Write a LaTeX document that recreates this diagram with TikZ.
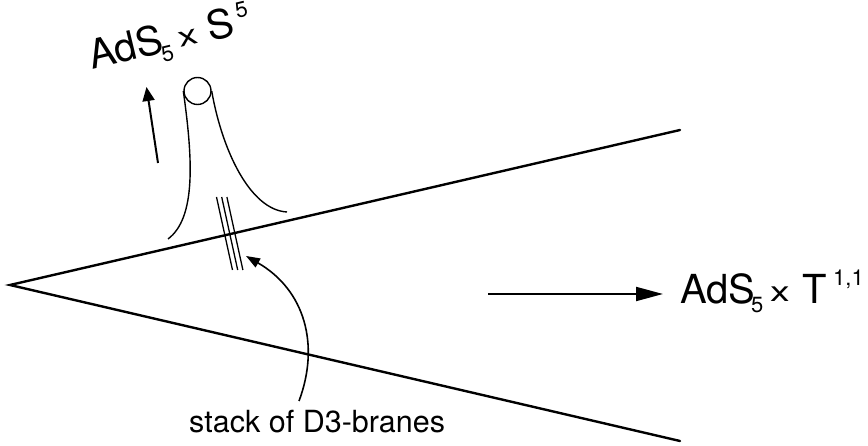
\documentclass[tikz,border=0pt]{standalone}
\usepackage{fontspec}
\setmainfont{TeX Gyre Heros}
\usetikzlibrary{arrows.meta}
\newcommand{\bigf}{\fontsize{40}{45}\selectfont}
\newcommand{\midf}{\fontsize{28}{32}\selectfont}
\newcommand{\smallf}{\fontsize{22}{26}\selectfont}
\newcommand{\timesx}{\scalebox{1.4}[1]{\midf x}}
\tikzset{
  cone/.style={line width=2.4pt, line cap=round},
  tube/.style={line width=1.4pt},
  brane/.style={line width=1.3pt},
  bigarrow/.style={line width=2pt, -{Triangle[length=27pt,width=14pt]}},
  uparrow/.style={line width=2pt, -{Triangle[length=14pt,width=12pt]}},
  curvearrow/.style={line width=1.6pt, -{Triangle[length=14pt,width=10pt]}},
  lbl/.style={inner sep=0pt, anchor=base west}
}
\begin{document}
\begin{tikzpicture}[x=1pt,y=-1pt]
\useasboundingbox (0,0) rectangle (868,446);
% cone
\coordinate (apex) at (10,285);
\coordinate (up) at (680,130);
\coordinate (lo) at (680,441);
\draw[cone] (up) -- (apex) -- (lo);
% throat
\node[circle, draw, line width=1.4pt, minimum size=27pt, inner sep=0pt] (ring) at (197.5,91) {};
\coordinate (tl) at (168,239);
\coordinate (tr) at (287,212);
\draw[tube] (ring.west) .. controls (193,160) and (196,218) .. (tl);
\draw[tube] (ring.east) .. controls (222,150) and (250,210) .. (tr);
% branes
\foreach \i in {0,1,2}{
  \coordinate (bt\i) at (216.5+5.2*\i,197);
  \coordinate (bb\i) at (232.5+5.2*\i,270);
  \draw[brane] (bt\i) -- (bb\i);
}
% arrows
\coordinate (ua0) at (158,163);
\coordinate (ua1) at (146.5,87);
\draw[uparrow] (ua0) -- (ua1);
\coordinate (ha0) at (488,294);
\coordinate (ha1) at (663,294);
\draw[bigarrow] (ha0) -- (ha1);
% top label (rotated)
\begin{scope}[shift={(92,70)}, rotate=13.5]
  \node[lbl, rotate=13.5] (tA) at (0,0) {\bigf AdS};
  \node[lbl, rotate=13.5] (t5) at (71,9) {\smallf 5};
  \node[lbl, rotate=13.5] (tx) at (91,-1) {\timesx};
  \node[lbl, rotate=13.5] (tS) at (122,0) {\bigf S};
  \node[lbl, rotate=13.5] (tsup) at (153,-16) {\smallf 5};
\end{scope}
% right label
\node[lbl] (rA) at (680,304) {\bigf AdS};
\node[lbl] (r5) at (751,313) {\smallf 5};
\node[lbl] (rx) at (770,302) {\timesx};
\node[lbl] (rT) at (802,304) {\bigf T};
\node[lbl] (rsup) at (833,286) {\smallf 1,1};
% stack label and arrow
\node[lbl] (stack) at (189,432) {\fontsize{30.5}{34}\selectfont stack of D3-branes};
\coordinate (ca0) at (299,401);
\coordinate (ca1) at (246,256);
\draw[curvearrow] (ca0) .. controls (320,345) and (305,290) .. (ca1);
\end{tikzpicture}
\end{document}
